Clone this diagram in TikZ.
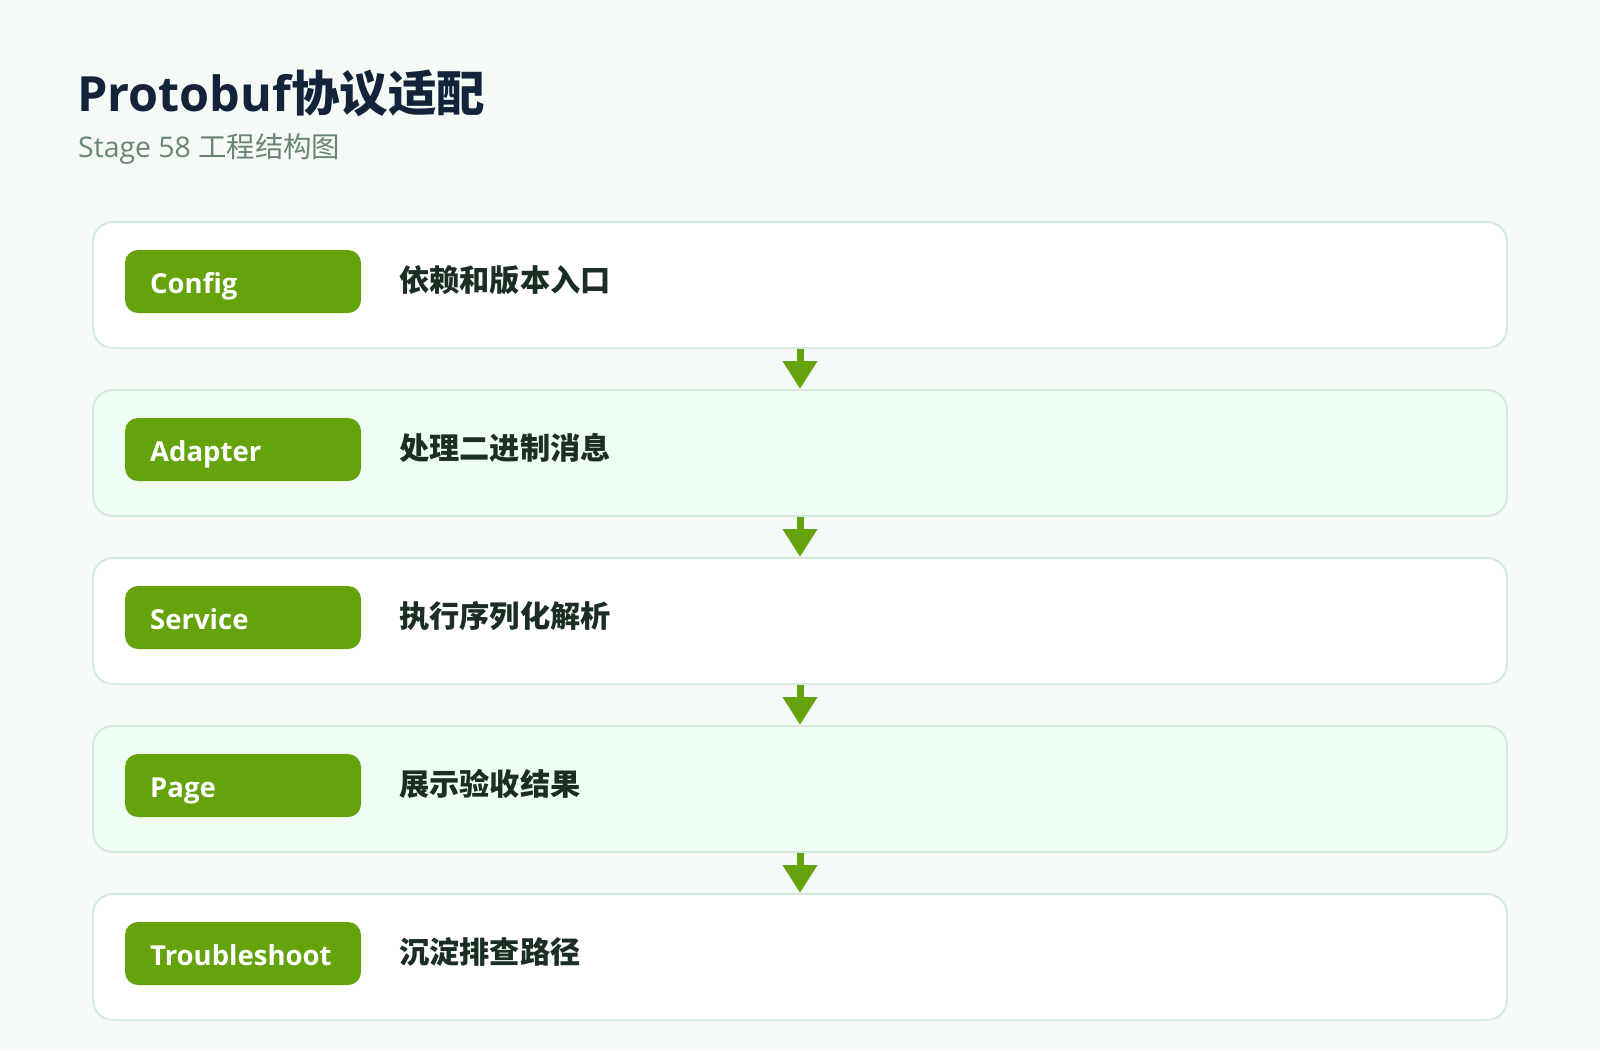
\documentclass[tikz,border=0pt]{standalone}
\usepackage{fontspec}
\setmainfont{Open Sans}
\newfontfamily\cjk{Noto Sans CJK SC}
\usetikzlibrary{arrows.meta}
\definecolor{bgc}{HTML}{F5FAF7}
\definecolor{boxa}{HTML}{FFFFFF}
\definecolor{boxb}{HTML}{F0FDF5}
\definecolor{bord}{HTML}{D4EADF}
\definecolor{green}{HTML}{65A30D}
\definecolor{desc}{HTML}{1B2E24}
\definecolor{titlec}{HTML}{13233A}
\definecolor{subc}{HTML}{6A8577}
\tikzset{
  stagebox/.style={draw=bord, line width=2pt, rounded corners=20pt, minimum width=1414pt, minimum height=126pt, inner sep=0pt},
  pill/.style={fill=green, rounded corners=13pt, minimum width=236pt, minimum height=63pt, inner sep=0pt},
  pilltext/.style={anchor=base west, inner sep=0pt, text=white, font=\fontsize{27.5}{31}\selectfont\bfseries},
  desctext/.style={anchor=base west, inner sep=0pt, text=desc, font=\fontsize{30.2}{34}\selectfont\cjk\bfseries},
  flow/.style={draw=green, line width=7pt, -{Triangle[length=28pt,width=33pt]}}
}
\begin{document}
\begin{tikzpicture}[x=1pt,y=-1pt]
\fill[bgc] (0,0) rectangle (1600,1050);
\useasboundingbox (0,0) rectangle (1600,1050);
\node[anchor=base west, inner sep=0pt, text=titlec, font=\fontsize{48.5}{56}\selectfont\bfseries] (title) at (77,111) {Protobuf{\cjk 协议适配}};
\node[anchor=base west, inner sep=0pt, text=subc, font=\fontsize{28.4}{32}\selectfont] (subtitle) at (78,157) {Stage 58 {\cjk 工程结构图}};
\foreach \i/\lab/\txt/\fc in {1/Config/依赖和版本入口/boxa, 2/Adapter/处理二进制消息/boxb, 3/Service/执行序列化解析/boxa, 4/Page/展示验收结果/boxb, 5/Troubleshoot/沉淀排查路径/boxa}{
  \pgfmathsetmacro{\top}{221+168*(\i-1)}
  \node[stagebox, fill=\fc] (box\i) at (800,\top+64) {};
  \node[pill] (pill\i) at (243,\top+60.5) {};
  \node[pilltext] (lab\i) at (150,\top+72.5) {\lab};
  \node[desctext] (desc\i) at (399,\top+70) {\txt};
}
\foreach \i/\j in {1/2,2/3,3/4,4/5}{
  \draw[flow] (box\i.south) -- (box\j.north);
}
\end{tikzpicture}
\end{document}
